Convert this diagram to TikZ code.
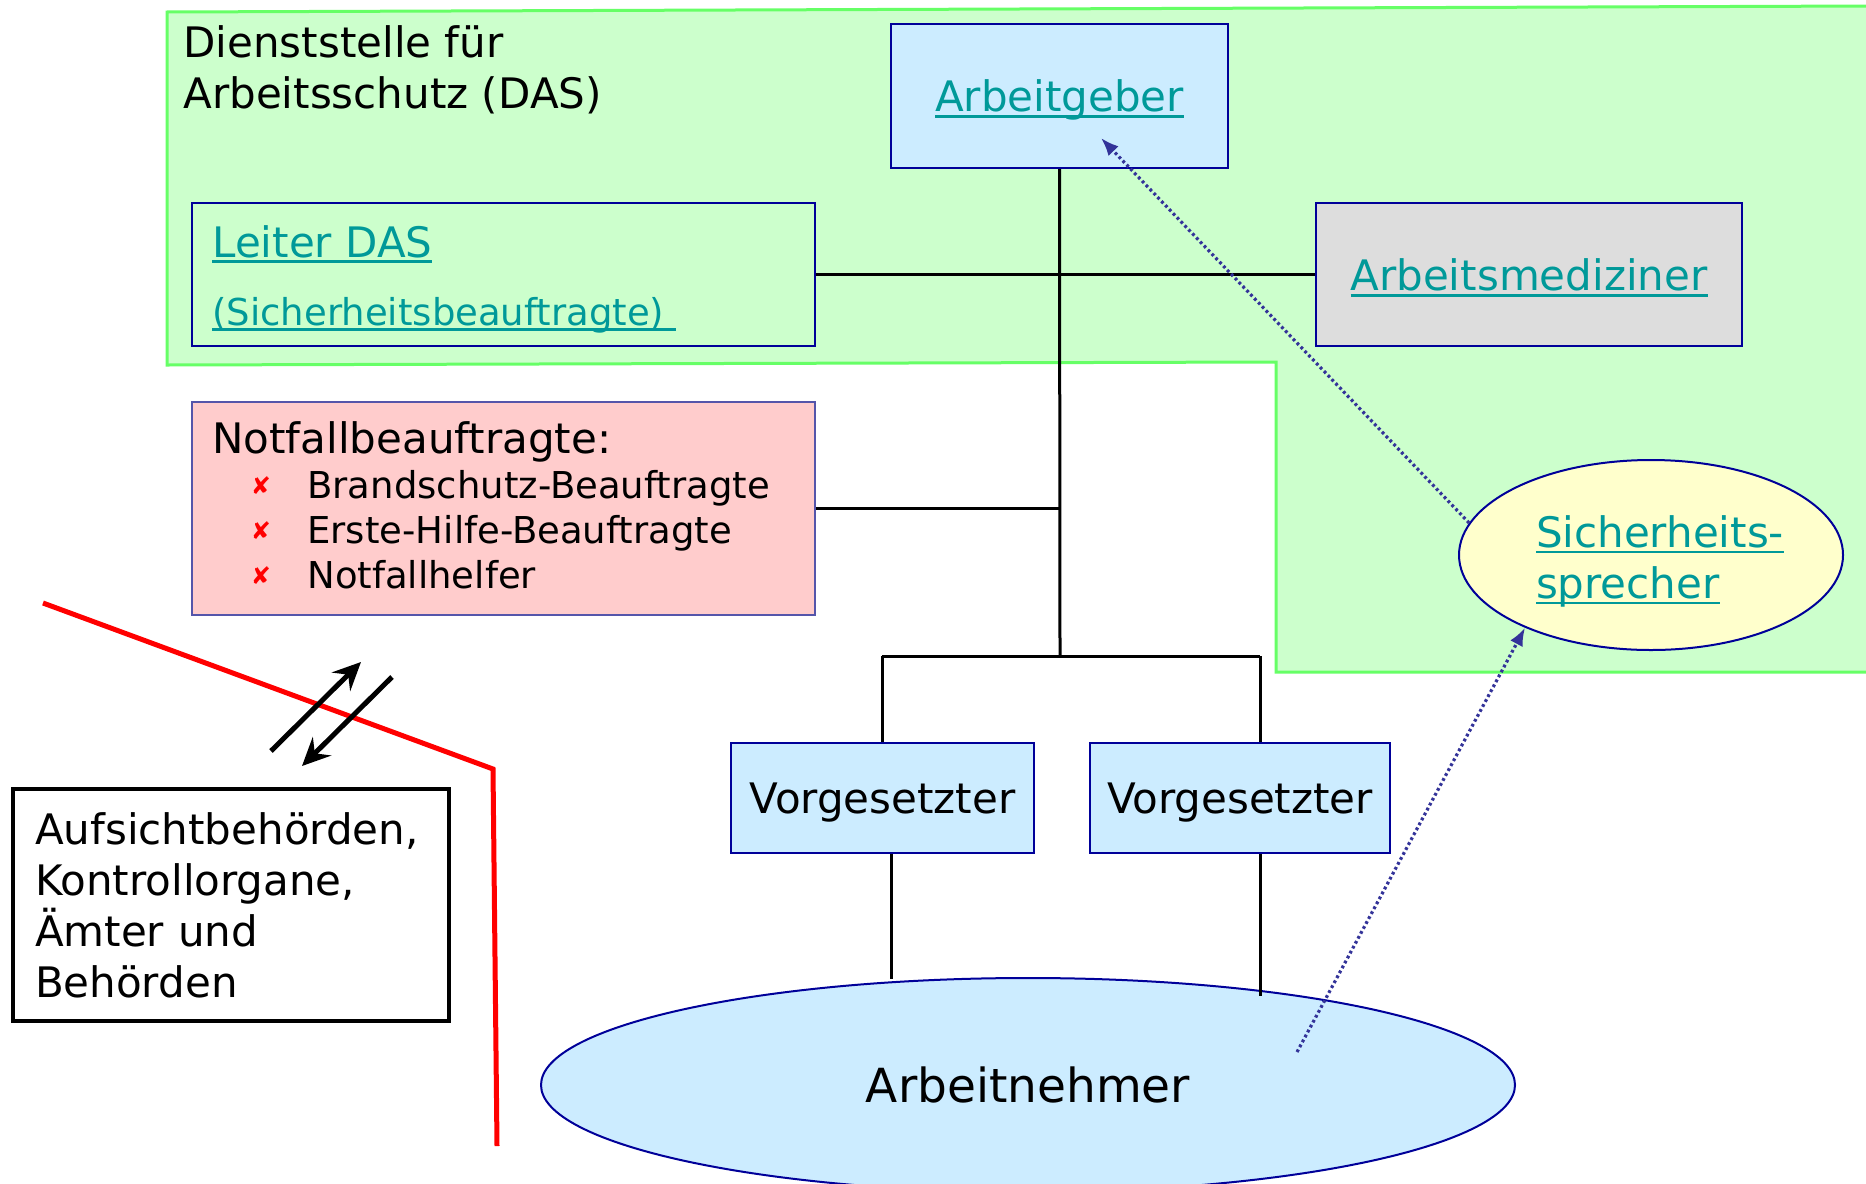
\documentclass[tikz,border=0pt]{standalone}
\usepackage{fontspec}
\setmainfont{DejaVu Sans}
\usetikzlibrary{arrows.meta,shapes.geometric}
\definecolor{lnk}{HTML}{009999}
\definecolor{dasgreen}{HTML}{CCFFCC}
\definecolor{dasedge}{HTML}{66FF66}
\definecolor{navy}{HTML}{000099}
\definecolor{lblue}{HTML}{CCECFF}
\definecolor{lgray}{HTML}{DDDDDD}
\definecolor{lpink}{HTML}{FFCCCC}
\definecolor{pinkedge}{HTML}{5555AA}
\definecolor{lyellow}{HTML}{FFFFCC}
\definecolor{dotblue}{HTML}{333399}
\newcommand\lnkul[1]{\setbox0\hbox{#1}\rlap{\rule[-0.15em]{\wd0}{0.07em}}\box0}
\tikzset{
  mainf/.style={font=\fontsize{21}{25.5}\selectfont},
  smallf/.style={font=\fontsize{18.5}{22}\selectfont},
  boxnode/.style={draw=navy, line width=1pt, rectangle, inner sep=0pt},
  txt/.style={anchor=base west, inner sep=0pt},
  conn/.style={draw=black, line width=1.5pt},
  dotarrow/.style={draw=dotblue, line width=1.6pt, dash pattern=on 1.4pt off 1.4pt,
     -{Latex[length=9pt,width=7pt]}},
  blackarrow/.style={draw=black, line width=2.5pt, -{Stealth[length=14pt,width=13pt,inset=5pt]}},
  xmark/.style={inner sep=0pt, text=red, font=\fontsize{12}{14}\selectfont}
}
\begin{document}
\begin{tikzpicture}[x=0.5pt,y=-0.5pt]
\useasboundingbox (0,0) rectangle (1866,1183);
\clip (0,0) rectangle (1866,1183);
\fill[white] (0,0) rectangle (1866,1183);
% DAS region
\filldraw[fill=dasgreen, draw=dasedge, line width=1.5pt]
  (167,12) -- (1872,6) -- (1872,672) -- (1276,672) -- (1276,362) -- (167,365) -- cycle;
\node[mainf, txt] (das1) at (183,57) {Dienststelle für};
\node[mainf, txt] (das2) at (183,108) {Arbeitsschutz (DAS)};

% boxes
\node[boxnode, fill=lblue, minimum width=168.5pt, minimum height=72pt, mainf, text=lnk, text depth=0pt]
  (ag) at (1059.5,96) {\lnkul{Arbeitgeber}};
\node[boxnode, fill=dasgreen, minimum width=311.5pt, minimum height=71.5pt] (leiter) at (503.5,274.5) {};
\node[mainf, txt, text=lnk] (leitert) at (212,257) {\lnkul{Leiter DAS}};
\node[smallf, txt, text=lnk] (leitert2) at (212,325) {\lnkul{(Sicherheitsbeauftragte)\ }};
\node[boxnode, fill=lgray, minimum width=213pt, minimum height=71.5pt, mainf, text=lnk, text depth=0pt]
  (med) at (1529,274.5) {\lnkul{Arbeitsmediziner}};

\node[boxnode, draw=pinkedge, fill=lpink, minimum width=311.5pt, minimum height=106.5pt] (notf) at (503.5,508.5) {};
\node[mainf, txt] (notft) at (212,453) {Notfallbeauftragte:};
\node[xmark] (x1) at (261,486) {✘};
\node[xmark] (x2) at (261,531) {✘};
\node[xmark] (x3) at (261,576) {✘};
\node[smallf, txt] (n1) at (307,498) {Brandschutz-Beauftragte};
\node[smallf, txt] (n2) at (307,543) {Erste-Hilfe-Beauftragte};
\node[smallf, txt] (n3) at (307,588) {Notfallhelfer};

\node[ellipse, draw=navy, line width=1pt, fill=lyellow, minimum width=192pt, minimum height=95pt,
  inner sep=0pt, mainf, text=lnk, align=left]
  (ssp) at (1651,555) {\rule{0pt}{22pt}\hspace*{9pt}\lnkul{Sicherheits-}\\\hspace*{9pt}\lnkul{sprecher}};

\node[boxnode, fill=lblue, minimum width=151.5pt, minimum height=55pt, mainf, text depth=0pt]
  (v1) at (882.5,798) {Vorgesetzter};
\node[boxnode, fill=lblue, minimum width=150pt, minimum height=55pt, mainf, text depth=0pt]
  (v2) at (1240,798) {Vorgesetzter};

\node[ellipse, draw=navy, line width=1pt, fill=lblue, minimum width=487pt, minimum height=107pt,
  inner sep=0pt, font=\fontsize{23.5}{28}\selectfont, text depth=0pt]
  (an) at (1028,1085) {Arbeitnehmer};

\node[draw=black, line width=2pt, fill=white, mainf, align=left, text width=196pt,
  inner xsep=11pt, inner ysep=0pt, minimum height=116pt]
  (auf) at (231,905) {Aufsichtbehörden,\\Kontrollorgane,\\Ämter und\\Behörden};

% connectors
\coordinate (jc) at (1060,656);
\coordinate (jl) at (882,656);
\coordinate (jr) at (1260,656);
\coordinate (b1) at (891,979);
\coordinate (b2) at (1260,996);
\draw[conn] (ag.south) -- (jc);
\draw[conn] (leiter.east) -- (med.west);
\draw[conn] (notf.east) -- (notf.east -| jc);
\draw[conn] (jl) -- (jr);
\draw[conn] (jl) -- (jl |- v1.north);
\draw[conn] (jr) -- (jr |- v2.north);
\draw[conn] (b1 |- v1.south) -- (b1);
\draw[conn] (b2 |- v2.south) -- (b2);

% dotted arrows
\coordinate (agtip) at (1101,138);
\coordinate (anstart) at (1297,1052);
\draw[dotarrow] (ssp.170) -- (agtip);
\draw[dotarrow] (anstart) -- (ssp.210);

% red boundary and exchange arrows
\coordinate (r1) at (43,603);
\coordinate (r2) at (493,769);
\coordinate (r3) at (497,1146);
\draw[red, line width=2.5pt] (r1) -- (r2) -- (r3);
\coordinate (upS) at (271,751);
\coordinate (upE) at (361,662);
\coordinate (dnS) at (392,677);
\coordinate (dnE) at (302,766);
\draw[blackarrow] (upS) -- (upE);
\draw[blackarrow] (dnS) -- (dnE);
\end{tikzpicture}
\end{document}
